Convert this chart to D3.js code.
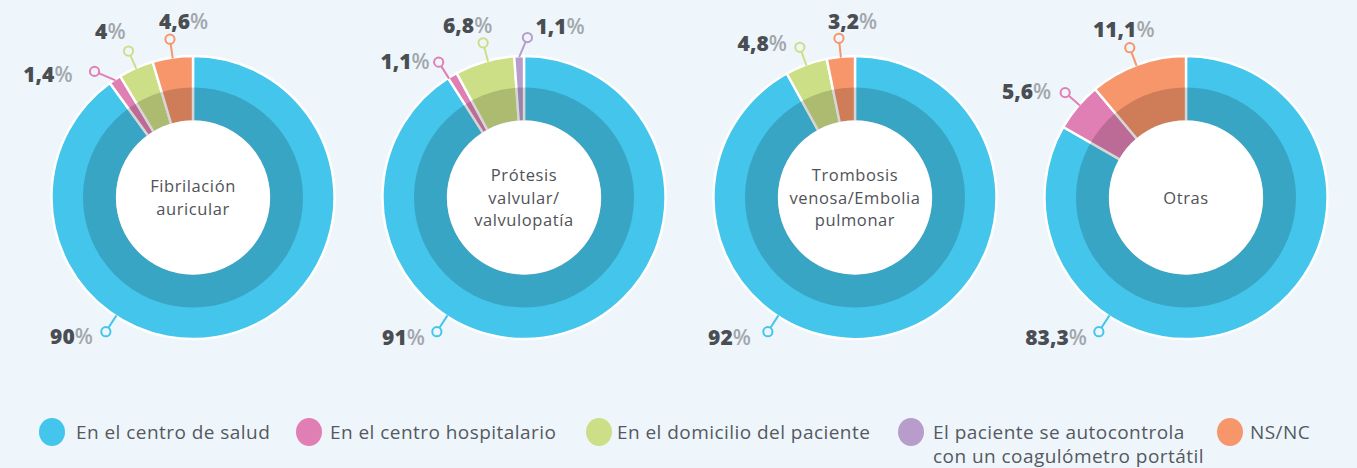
<!DOCTYPE html>
<html><head><meta charset="utf-8">
<script src="https://cdn.jsdelivr.net/npm/d3@7"></script>
<style>
html,body{margin:0;padding:0;background:#EEF6FC;}
svg{display:block;}
</style></head><body>
<script>
// ---------- data ----------
const categories = ["En el centro de salud", "En el centro hospitalario", "En el domicilio del paciente", "El paciente se autocontrola con un coagulómetro portátil", "NS/NC"];
const legendLines = [["En el centro de salud"], ["En el centro hospitalario"], ["En el domicilio del paciente"], ["El paciente se autocontrola", "con un coagulómetro portátil"], ["NS/NC"]];
const charts = ["Fibrilación auricular", "Prótesis valvular/valvulopatía", "Trombosis venosa/Embolia pulmonar", "Otras"];
const chartTitleLines = [["Fibrilación", "auricular"], ["Prótesis", "valvular/", "valvulopatía"], ["Trombosis", "venosa/Embolia", "pulmonar"], ["Otras"]];
const fibrilacionAuricular = [90, 1.4, 4, 0, 4.6];
const protesisValvular = [91, 1.1, 6.8, 1.1, 0];
const trombosisVenosa = [92, 0, 4.8, 0, 3.2];
const otras = [83.3, 5.6, 0, 0, 11.1];
const seriesValues = [fibrilacionAuricular, protesisValvular, trombosisVenosa, otras];

// ---------- styles / layout ----------
const colors = ["#44C5EB", "#E07FB3", "#CDDF86", "#B89CCB", "#F7966B"];
const W = 1357, H = 468;
const cy = 197.5, rOuter = 141.5, rMid = 110, rInner = 76, rLabel = 160;
const mainLabelAngle = 213; // degrees, label of the large slice
// per chart, per category: [angle nudge (deg), text-anchor, dx, dy]
const labelLayout = [
  [[0, "end", -13, 12.5], [-4.5, "end", -22, 10.5], [0, "end", -3, -12], null, [0, "start", -11, -10.5]],
  [[0, "end", -12, 13], [-1.8, "end", -9, 6.5], [1.4, "middle", -15.5, -10], [3.2, "start", 8, -4], null],
  [[0, "end", -17, 13], null, [0, "end", -13, 4], null, [0, "start", -11, -9.5]],
  [[0, "end", -12, 13], [1, "end", -14, 6.5], null, null, [-0.6, "middle", -6, -10.5]]
];
const legendCircleX = [52, 309, 599, 911, 1230];
const legendTextX = [76, 330, 617, 933, 1250];
const legendY = 432;

const svg = d3.select("body").append("svg").attr("width", W).attr("height", H);
svg.append("rect").attr("width", W).attr("height", H).attr("fill", "#EEF6FC");

const xScale = d3.scalePoint().domain(d3.range(charts.length)).range([193, 1186]);
const rad = d => d * Math.PI / 180;
const fmt = v => String(v).replace(".", ",");

const pie = d3.pie().value(d => d.v).sort(null).startAngle(0).endAngle(2 * Math.PI);
const arc = d3.arc().innerRadius(rInner).outerRadius(rOuter);
const overlay = d3.arc().innerRadius(rInner).outerRadius(rMid).startAngle(0).endAngle(2 * Math.PI);

charts.forEach((name, ci) => {
  const g = svg.append("g").attr("transform", `translate(${xScale(ci)},${cy})`);
  const data = seriesValues[ci].map((v, i) => ({v, i})).filter(d => d.v > 0);
  const arcs = pie(data);
  g.selectAll("path.slice").data(arcs).join("path").attr("class", "slice")
    .attr("d", arc).attr("fill", d => colors[d.data.i])
    .attr("stroke", "#ffffff").attr("stroke-width", 2.4).attr("stroke-linejoin", "miter");
  g.append("path").attr("d", overlay()).attr("fill", "#000").attr("fill-opacity", 0.16);
  g.append("circle").attr("r", rInner + 1).attr("fill", "#ffffff");

  const lines = chartTitleLines[ci];
  const lh = 22.5;
  g.append("text").attr("text-anchor", "middle")
    .attr("font-family", "'Open Sans', sans-serif").attr("font-size", 16.5).attr("letter-spacing", 0.6)
    .attr("fill", "#4F5358")
    .selectAll("tspan").data(lines).join("tspan")
    .attr("x", 0).attr("y", (d, k) => (k - (lines.length - 1) / 2) * lh + 6).text(d => d);

  arcs.forEach(a => {
    const i = a.data.i;
    const lay = labelLayout[ci][i];
    const mid = (a.startAngle + a.endAngle) / 2;
    const ang = i === 0 ? rad(mainLabelAngle) : mid + rad(lay[0]);
    const startAng = (ang >= a.startAngle && ang <= a.endAngle) ? ang : mid;
    const px = Math.sin(ang) * rLabel, py = -Math.cos(ang) * rLabel;
    g.append("line")
      .attr("x1", Math.sin(startAng) * (rOuter - 1)).attr("y1", -Math.cos(startAng) * (rOuter - 1))
      .attr("x2", px).attr("y2", py)
      .attr("stroke", colors[i]).attr("stroke-width", 2);
    g.append("circle").attr("cx", px).attr("cy", py).attr("r", 4.6)
      .attr("fill", "#EEF6FC").attr("stroke", colors[i]).attr("stroke-width", 2);
    const t = g.append("text").attr("x", px + lay[2]).attr("y", py + lay[3])
      .attr("text-anchor", lay[1]).attr("font-family", "'Open Sans', sans-serif")
      .attr("font-size", 21).attr("font-weight", 800);
    t.append("tspan").attr("fill", "#4A4E53").text(fmt(a.data.v));
    t.append("tspan").attr("fill", "#A3A7AB").attr("font-weight", 600).text("%");
  });
});

// legend
const lg = svg.append("g");
categories.forEach((c, i) => {
  lg.append("ellipse").attr("cx", legendCircleX[i]).attr("cy", legendY).attr("rx", 13).attr("ry", 14).attr("fill", colors[i]);
  lg.append("text").attr("font-family", "'Open Sans', sans-serif").attr("font-size", 19).attr("letter-spacing", 0.45)
    .attr("fill", "#55595E")
    .selectAll("tspan").data(legendLines[i]).join("tspan")
    .attr("x", legendTextX[i]).attr("y", (d, k) => 438.5 + k * 24.5).text(d => d);
});
</script>
</body></html>
